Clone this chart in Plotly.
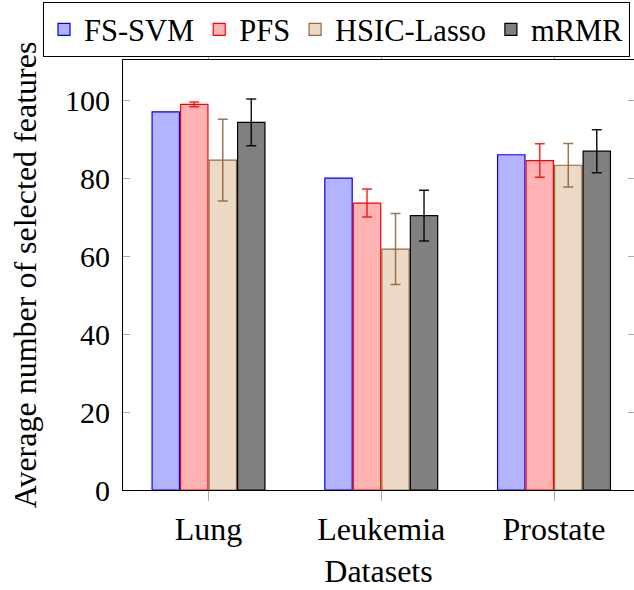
import plotly.graph_objects as go

categories = ["Lung", "Leukemia", "Prostate"]
fs_svm = [97.0, 80.0, 86.0]
pfs = [98.9, 73.6, 84.5]
pfs_err = [0.6, 3.6, 4.3]
hsic = [84.6, 61.8, 83.3]
hsic_err = [10.5, 9.1, 5.6]
mrmr = [94.3, 70.4, 86.9]
mrmr_err = [6.0, 6.5, 5.5]
y_ticks = [0, 20, 40, 60, 80, 100]

FONT = "Times New Roman, Liberation Serif, serif"
FS = 32
x = list(range(len(categories)))

fig = go.Figure()
fig.add_trace(go.Bar(name="FS-SVM", x=x, y=fs_svm,
                     marker=dict(color="rgb(179,179,255)", line=dict(color="rgb(0,0,255)", width=1.2))))
fig.add_trace(go.Bar(name="PFS", x=x, y=pfs,
                     marker=dict(color="rgb(255,179,179)", line=dict(color="rgb(255,0,0)", width=1.2)),
                     error_y=dict(type="data", array=pfs_err, color="rgba(255,0,0,0.85)", thickness=1.5, width=5)))
fig.add_trace(go.Bar(name="HSIC-Lasso", x=x, y=hsic,
                     marker=dict(color="rgb(236,217,198)", line=dict(color="rgb(150,105,60)", width=1.2)),
                     error_y=dict(type="data", array=hsic_err, color="rgba(140,95,50,0.85)", thickness=1.5, width=5)))
fig.add_trace(go.Bar(name="mRMR", x=x, y=mrmr,
                     marker=dict(color="rgb(128,128,128)", line=dict(color="rgb(0,0,0)", width=1.2)),
                     error_y=dict(type="data", array=mrmr_err, color="rgba(0,0,0,0.9)", thickness=1.5, width=5)))

fig.update_layout(
    width=634, height=590,
    margin=dict(l=123, r=0, t=60, b=100, autoexpand=False),
    paper_bgcolor="white", plot_bgcolor="white",
    font=dict(family=FONT, size=FS, color="black"),
    barmode="group", bargap=0.34, bargroupgap=0.04,
    showlegend=True,
    legend=dict(orientation="h", xref="paper", yref="paper",
                x=(43 - 123) / 511, xanchor="left", y=(490 - 2) / 430, yanchor="top",
                bordercolor="black", borderwidth=1, bgcolor="white",
                font=dict(family=FONT, size=30.5, color="black"), itemwidth=30,
                tracegroupgap=0, traceorder="normal"),
    xaxis=dict(range=[-0.495, 2.463], tickvals=x, ticktext=categories,
               tickfont=dict(family=FONT, size=FS, color="black"),
               showline=True, linecolor="black", linewidth=1.2, mirror="ticks",
               ticks="outside", ticklen=10, tickcolor="rgb(170,170,170)", tickwidth=1.2,
               showgrid=False, zeroline=False,
               title=dict(text="Datasets", standoff=14,
                          font=dict(family=FONT, size=FS, color="black"))),
    yaxis=dict(range=[0, 110.3], tickvals=y_ticks,
               tickfont=dict(family=FONT, size=30, color="black"),
               showline=True, linecolor="black", linewidth=1.2,
               ticks="inside", ticklen=7, tickcolor="rgb(170,170,170)", tickwidth=1.2,
               ticklabelstandoff=6,
               showgrid=False, zeroline=False,
               title=dict(text="Average number of selected features", standoff=18,
                          font=dict(family=FONT, size=FS, color="black"))),
    yaxis2=dict(range=[0, 110.3], tickvals=y_ticks, overlaying="y", side="right",
                showline=False, ticks="inside", ticklen=6, tickcolor="rgb(170,170,170)", tickwidth=1.2,
                showticklabels=False, showgrid=False, zeroline=False),
)
fig.add_trace(go.Scatter(x=[None], y=[None], yaxis="y2", showlegend=False, hoverinfo="skip"))

fig.write_html("out.html", config={"displayModeBar": False},
               post_script="document.body.style.margin='0';")
